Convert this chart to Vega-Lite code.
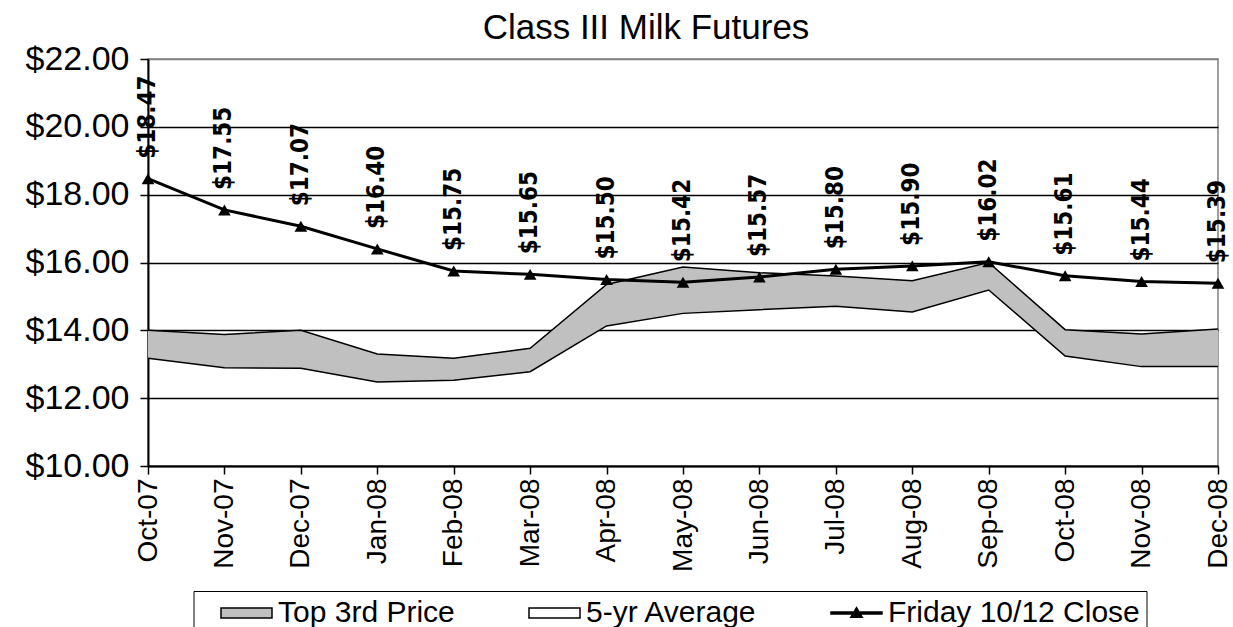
{
  "$schema": "https://vega.github.io/schema/vega-lite/v6.json",
  "width": 1070,
  "height": 407,
  "autosize": "none",
  "padding": {"left": 148, "top": 59, "right": 15, "bottom": 161},
  "background": "white",
  "config": {
    "view": {"stroke": "#808080", "strokeWidth": 1.5},
    "font": "Liberation Sans"
  },
  "title": {
    "text": "Class III Milk Futures",
    "fontSize": 35,
    "fontWeight": "normal",
    "font": "Liberation Sans",
    "color": "black",
    "anchor": "middle",
    "dx": -37,
    "offset": -4
  },
  "data": {
    "values": [
      {"month": "Oct-07", "avg": 13.18, "top": 14.0, "close": 18.47},
      {"month": "Nov-07", "avg": 12.9, "top": 13.88, "close": 17.55},
      {"month": "Dec-07", "avg": 12.88, "top": 14.0, "close": 17.07},
      {"month": "Jan-08", "avg": 12.48, "top": 13.3, "close": 16.4},
      {"month": "Feb-08", "avg": 12.53, "top": 13.18, "close": 15.75},
      {"month": "Mar-08", "avg": 12.78, "top": 13.47, "close": 15.65},
      {"month": "Apr-08", "avg": 14.13, "top": 15.35, "close": 15.5},
      {"month": "May-08", "avg": 14.5, "top": 15.87, "close": 15.42},
      {"month": "Jun-08", "avg": 14.61, "top": 15.7, "close": 15.57},
      {"month": "Jul-08", "avg": 14.71, "top": 15.6, "close": 15.8},
      {"month": "Aug-08", "avg": 14.54, "top": 15.46, "close": 15.9},
      {"month": "Sep-08", "avg": 15.19, "top": 16.0, "close": 16.02},
      {"month": "Oct-08", "avg": 13.24, "top": 14.02, "close": 15.61},
      {"month": "Nov-08", "avg": 12.93, "top": 13.89, "close": 15.44},
      {"month": "Dec-08", "avg": 12.93, "top": 14.04, "close": 15.39}
    ]
  },
  "encoding": {
    "x": {
      "field": "month",
      "type": "ordinal",
      "sort": null,
      "scale": {"type": "point", "padding": 0},
      "axis": {
        "title": null,
        "labelAngle": 270,
        "labelFontSize": 28,
        "labelColor": "black",
        "labelFont": "Liberation Sans",
        "labelPadding": 4,
        "tickSize": 8,
        "tickColor": "black",
        "tickWidth": 1.5,
        "domainColor": "black",
        "domainWidth": 2,
        "grid": false
      }
    }
  },
  "layer": [
    {
      "mark": {"type": "area", "opacity": 1},
      "encoding": {
        "y": {
          "field": "avg",
          "type": "quantitative",
          "scale": {"domain": [10, 22], "nice": false, "zero": false},
          "axis": {
            "title": null,
            "values": [10, 12, 14, 16, 18, 20, 22],
            "format": "$.2f",
            "labelFontSize": 34,
            "labelColor": "black",
            "labelFont": "Liberation Sans",
            "labelPadding": 11,
            "tickSize": 8,
            "tickColor": "black",
            "tickWidth": 1.5,
            "domainColor": "black",
            "domainWidth": 2,
            "grid": true,
            "gridColor": {"condition": {"test": "datum.value === 22", "value": "#808080"}, "value": "black"},
            "gridWidth": 1.5,
            "gridOpacity": 1
          }
        },
        "y2": {"field": "top"},
        "color": {
          "datum": "Top 3rd Price",
          "type": "nominal",
          "scale": {
            "domain": ["Top 3rd Price", "5-yr Average", "Friday 10/12 Close"],
            "range": ["#c0c0c0", "#ffffff", "#000000"]
          },
          "legend": {
            "title": " ",
            "titleOrient": "left",
            "titlePadding": 31,
            "titleFontSize": 30,
            "orient": "none",
            "direction": "horizontal",
            "legendX": 45.5,
            "legendY": 532,
            "padding": 6,
            "strokeColor": "black",
            "fillColor": "white",
            "labelFontSize": 30,
            "labelFont": "Liberation Sans",
            "labelColor": "black",
            "labelOffset": 15.5,
            "labelLimit": 400,
            "columnPadding": 70,
            "symbolSize": 900,
            "symbolOpacity": 1,
            "symbolType": "M-1.7,-0.33H1.7V0.33H-1.7Z",
            "symbolStrokeColor": "black",
            "symbolStrokeWidth": 1.5
          }
        }
      }
    },
    {
      "mark": {"type": "line", "color": "black", "strokeWidth": 1.5},
      "encoding": {"y": {"field": "top", "type": "quantitative"}}
    },
    {
      "mark": {"type": "line", "color": "black", "strokeWidth": 1.5},
      "encoding": {"y": {"field": "avg", "type": "quantitative"}}
    },
    {
      "mark": {"type": "line", "strokeWidth": 3, "color": "black"},
      "encoding": {
        "y": {"field": "close", "type": "quantitative"}
      }
    },
    {
      "mark": {"type": "point", "shape": "triangle-up", "filled": true, "color": "black", "size": 160, "opacity": 1},
      "encoding": {"y": {"field": "close", "type": "quantitative"}}
    },
    {
      "mark": {"type": "point", "filled": true, "opacity": 0, "size": 10, "stroke": "black", "strokeWidth": 1.5},
      "encoding": {
        "y": {"field": "close", "type": "quantitative"},
        "shape": {
          "datum": "Friday 10/12 Close",
          "type": "nominal",
          "scale": {
            "domain": ["Top 3rd Price", "5-yr Average", "Friday 10/12 Close"],
            "range": ["M-1.7,-0.33H1.7V0.33H-1.7Z", "M-1.7,-0.33H1.7V0.33H-1.7Z", "M-1.7,-0.06H1.7V0.06H-1.7ZM0,-0.36L0.38,0.28H-0.38Z"]
          }
        }
      }
    },
    {
      "mark": {
        "type": "text",
        "angle": 270,
        "align": "left",
        "baseline": "middle",
        "dx": 20,
        "font": "Liberation Sans Narrow, DejaVu Sans Condensed, sans-serif",
        "fontWeight": "bold",
        "fontSize": 24,
        "color": "black"
      },
      "encoding": {
        "y": {"field": "close", "type": "quantitative"},
        "text": {"field": "close", "type": "quantitative", "format": "$.2f"}
      }
    }
  ]
}
